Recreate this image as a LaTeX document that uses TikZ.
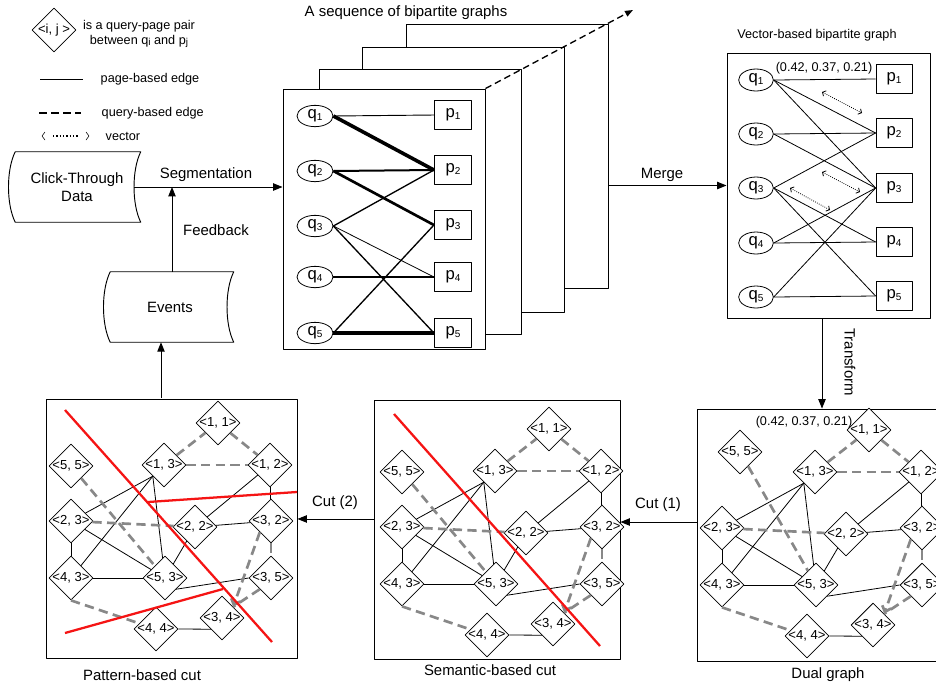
\documentclass[tikz,border=0pt]{standalone}
\usepackage{fontspec}
\setmainfont{Liberation Sans}
\usetikzlibrary{arrows.meta,shapes.geometric,calc}

\definecolor{edgegray}{RGB}{136,136,136}
\definecolor{cutred}{RGB}{245,20,20}

% small lowered index, as in q1, p2
\newcommand\lowidx[1]{\raisebox{-1pt}{\fontsize{7.5}{8}\selectfont #1}}
% pair label that does not widen its diamond
\newcommand\pairlbl[1]{\makebox[0pt]{#1}}

\tikzset{
  panel/.style={draw, fill=white, line width=0.7pt, inner sep=0pt},
  qnode/.style={ellipse, draw, fill=white, line width=0.6pt, minimum width=27pt, minimum height=16pt, inner sep=0pt, font=\fontsize{12.5}{13}\selectfont},
  pnode/.style={rectangle, draw, fill=white, line width=0.6pt, minimum width=28pt, minimum height=22pt, inner sep=0pt, font=\fontsize{12.5}{13}\selectfont},
  pair/.style={diamond, draw, fill=white, line width=0.6pt, minimum width=33pt, minimum height=33pt, inner sep=0pt, font=\fontsize{9.8}{11}\selectfont},
  qedge/.style={draw=edgegray, line width=2pt, dash pattern=on 7pt off 4pt},
  pedge/.style={draw=black, line width=0.6pt},
  flow/.style={-{Triangle[length=7pt,width=5.5pt]}, line width=0.7pt},
  cutline/.style={draw=cutred, line width=1.7pt},
  vecarrow/.style={densely dotted, line width=0.6pt, {Straight Barb[length=2pt,width=4.5pt]}-{Straight Barb[length=2pt,width=4.5pt]}},
  small/.style={font=\fontsize{9.5}{11.5}\selectfont},
  storeddata/.style={inner sep=0pt, align=center}
}

% the stored-data outline (both sides bowed to the left) around a node
\newcommand\storedoutline[1]{%
  \draw[line width=0.7pt, fill=white] (#1.north west) -- (#1.north east)
    .. controls ($(#1.north east)+(-9,18)$) and ($(#1.south east)+(-9,-18)$) .. (#1.south east)
    -- (#1.south west)
    .. controls ($(#1.south west)+(-9,-18)$) and ($(#1.north west)+(-9,18)$) .. (#1.north west);}

% dual graph of query-page pairs: #1 prefix, #2 origin, #3 place of <5, 5>
\newcommand\pairgraph[3]{%
  \begin{scope}[shift={#2}]
    \node[pair] (#1-11) at (172,24)  {\pairlbl{<1, 1>}};
    \node[pair] (#1-13) at (118,66)  {\pairlbl{<1, 3>}};
    \node[pair] (#1-12) at (224,66)  {\pairlbl{<1, 2>}};
    \node[pair] (#1-55) at #3        {\pairlbl{<5, 5>}};
    \node[pair] (#1-23) at (25,122)  {\pairlbl{<2, 3>}};
    \node[pair] (#1-22) at (149,128) {\pairlbl{<2, 2>}};
    \node[pair] (#1-32) at (225,122) {\pairlbl{<3, 2>}};
    \node[pair] (#1-43) at (25,179)  {\pairlbl{<4, 3>}};
    \node[pair] (#1-53) at (119,179) {\pairlbl{<5, 3>}};
    \node[pair] (#1-35) at (225,179) {\pairlbl{<3, 5>}};
    \node[pair] (#1-34) at (176,219) {\pairlbl{<3, 4>}};
    \node[pair] (#1-44) at (110,230) {\pairlbl{<4, 4>}};
  \end{scope}
  % page-based edges
  \draw[pedge] (#1-13.south west) -- (#1-23);
  \draw[pedge] (#1-13.south west) -- (#1-43);
  \draw[pedge] (#1-13.south west) -- (#1-53);
  \draw[pedge] (#1-23) -- (#1-53);
  \draw[pedge] (#1-23) -- (#1-43);
  \draw[pedge] (#1-43) -- (#1-53);
  \draw[pedge] (#1-53) -- (#1-22);
  \draw[pedge] (#1-22) -- (#1-12);
  \draw[pedge] (#1-22) -- (#1-32);
  \draw[pedge] (#1-12) -- (#1-32);
  \draw[pedge] (#1-53.south east) -- (#1-35.west);
  \draw[pedge] (#1-44.east) -- (#1-34.south west);
  % query-based edges
  \draw[qedge] (#1-13) -- (#1-11);
  \draw[qedge] (#1-11) -- (#1-12);
  \draw[qedge] (#1-13) -- (#1-12);
  \draw[qedge] (#1-55) -- (#1-53);
  \draw[qedge] (#1-23) -- (#1-22);
  \draw[qedge] (#1-43.south) -- (#1-44);
  \draw[qedge] (#1-32) -- (#1-35);
  \draw[qedge, -{Straight Barb[length=4pt,width=7pt]}] (#1-32.south west) -- (#1-34.north east);
  \draw[qedge] (#1-35.south west) -- (#1-34.north east);
}

\begin{document}
\begin{tikzpicture}[x=0.75pt, y=-0.75pt, font=\fontsize{11.2}{13.5}\selectfont, line join=round]
\useasboundingbox (0,0) rectangle (936,683);
\clip (0,0) rectangle (936,683);

% ---------- legend ----------
\node[pair] (legpair) at (54,30) {\pairlbl{<i, j >}};
\node[small, align=center] (legpairtxt) at (139,34) {is a query-page pair\\between q\lowidx{i} and p\lowidx{j}};
\coordinate (lp1) at (40,79);  \coordinate (lp2) at (83,79);
\draw[line width=0.6pt] (lp1) -- (lp2);
\node[small, anchor=west] (legpage) at (96,79) {page-based edge};
\coordinate (lq1) at (39,113); \coordinate (lq2) at (81,113);
\draw[line width=1.4pt, dash pattern=on 6pt off 3pt] (lq1) -- (lq2);
\node[small, anchor=west] (legquery) at (97,113) {query-based edge};
\draw[line width=0.4pt] (45,132) -- (42,136) -- (45,140);
\draw[line width=1.1pt, dash pattern=on 0.9pt off 1.6pt] (53,136) -- (78,136);
\draw[line width=0.4pt] (86,132) -- (89,136) -- (86,140);
\node[small, anchor=west] (legvec) at (101,136) {vector};

% ---------- click-through data and events ----------
\node[storeddata, minimum width=93.75pt, minimum height=52.5pt] (ctd) at (78,187) {};
\storedoutline{ctd}
\node[align=center] (ctdtxt) at (77,187) {Click-Through\\Data};
\node[storeddata, minimum width=92.25pt, minimum height=52.5pt] (ev) at (172,307) {};
\storedoutline{ev}
\node (evtxt) at (170,307) {Events};

% ---------- sequence of bipartite graphs ----------
\node (seqtitle) at (406,13) {A sequence of bipartite graphs};
\node[panel, minimum width=151.5pt, minimum height=198pt]    (bip3) at (507,156) {};
\node[panel, minimum width=151.5pt, minimum height=198.75pt] (bip2) at (463,179.5) {};
\node[panel, minimum width=151.5pt, minimum height=198.75pt] (bip1) at (420,201.5) {};
\node[panel, minimum width=151.5pt, minimum height=195pt]    (bip0) at (384,219) {};
\coordinate (seqend) at (633,10);
\draw[line width=1pt, dash pattern=on 5pt off 3pt, -{Triangle[length=6pt,width=4.5pt]}] (bip0.north east) -- (seqend);

\node[qnode] (bq1) at (315,116) {q\lowidx{1}};
\node[qnode] (bq2) at (315,171) {q\lowidx{2}};
\node[qnode] (bq3) at (315,226) {q\lowidx{3}};
\node[qnode] (bq4) at (315,277) {q\lowidx{4}};
\node[qnode] (bq5) at (315,333) {q\lowidx{5}};
\node[pnode] (bp1) at (453,115) {p\lowidx{1}};
\node[pnode] (bp2) at (453,170) {p\lowidx{2}};
\node[pnode] (bp3) at (453,225) {p\lowidx{3}};
\node[pnode] (bp4) at (453,277) {p\lowidx{4}};
\node[pnode] (bp5) at (453,333) {p\lowidx{5}};
\draw[line width=0.7pt] (bq1.east) -- (bp1.west);
\draw[line width=2.7pt] (bq1.east) -- (bp2.west);
\draw[line width=1.5pt] (bq2.east) -- (bp2.west);
\draw[line width=2pt]   (bq2.east) -- (bp3.west);
\draw[line width=1pt]   (bq3.east) -- (bp2.west);
\draw[line width=0.6pt] (bq3.east) -- (bp4.west);
\draw[line width=1pt]   (bq3.east) -- (bp5.west);
\draw[line width=1pt]   (bq4.east) -- (bp4.west);
\draw[line width=1pt]   (bq5.east) -- (bp3.west);
\draw[line width=2.3pt] (bq5.east) -- (bp5.west);

% ---------- vector-based bipartite graph ----------
\node[small] (vectitle) at (817,35) {Vector-based bipartite graph};
\node[panel, minimum width=152.25pt, minimum height=198.75pt] (vec) at (828.5,185.5) {};
\node[qnode, minimum width=26pt, minimum height=16.5pt] (vq1) at (756,80)  {q\lowidx{1}};
\node[qnode, minimum width=26pt, minimum height=16.5pt] (vq2) at (756,134) {q\lowidx{2}};
\node[qnode, minimum width=26pt, minimum height=16.5pt] (vq3) at (756,188) {q\lowidx{3}};
\node[qnode, minimum width=26pt, minimum height=16.5pt] (vq4) at (756,243) {q\lowidx{4}};
\node[qnode, minimum width=26pt, minimum height=16.5pt] (vq5) at (756,297) {q\lowidx{5}};
\node[pnode, minimum width=27pt] (vp1) at (894,79)  {p\lowidx{1}};
\node[pnode, minimum width=27pt] (vp2) at (894,133) {p\lowidx{2}};
\node[pnode, minimum width=27pt] (vp3) at (894,188) {p\lowidx{3}};
\node[pnode, minimum width=27pt] (vp4) at (894,242) {p\lowidx{4}};
\node[pnode, minimum width=27pt] (vp5) at (894,296) {p\lowidx{5}};
\foreach \a/\b in {1/1,1/2,1/3,2/2,2/3,3/2,3/4,3/5,4/3,4/4,5/3,5/5}
  \draw[pedge] (vq\a.east) -- (vp\b.west);
\node[small] (veclbl) at (824,68) {(0.42, 0.37, 0.21)};
\coordinate (va1) at (822,92);  \coordinate (vb1) at (862,113);
\coordinate (va2) at (822,172); \coordinate (vb2) at (860,192);
\coordinate (va3) at (790,188); \coordinate (vb3) at (830,210);
\draw[vecarrow] (va1) -- (vb1);
\draw[vecarrow] (va2) -- (vb2);
\draw[vecarrow] (va3) -- (vb3);

% ---------- three dual graphs ----------
\node[panel, minimum width=188.25pt, minimum height=194.25pt] (patbox)  at (171.5,528.5) {};
\node[panel, minimum width=184.5pt,  minimum height=194.25pt] (sembox)  at (497,529.5) {};
\node[panel, minimum width=189.75pt, minimum height=189pt]    (dualbox) at (823.5,535) {};
\pairgraph{pt}{(46,399)}{(25,67)}
\pairgraph{sm}{(377,405)}{(25,67)}
\pairgraph{du}{(697,406)}{(43,46)}
\node[small] (duallbl) at (804,422) {(0.42, 0.37, 0.21)};

% cuts
\draw[cutline] (65,410) -- (272,642);
\draw[cutline] (148,502) -- (297,492);
\draw[cutline] (65,633) -- (223,589);
\draw[cutline] (394,414) -- (600,646);

\node (patlbl)  at (142,675) {Pattern-based cut};
\node (semlbl)  at (490,670) {Semantic-based cut};
\node (duallbl2) at (828,675) {Dual graph};

% ---------- process flow ----------
\draw[flow] ($(ctd.east)+(-7,0)$) -- (ctd.east -| bip0.west);
\node (seglbl) at (206,175) {Segmentation};
\draw[flow] (ev.north) -- (ev.north |- ctd.east);
\node (fbklbl) at (216,230) {Feedback};
\draw[flow] (vec.west -| bip3.east) -- (vec.west);
\node (mrglbl) at (662,175) {Merge};
\coordinate (tfstart) at (822,318);
\draw[flow] (tfstart) -- (tfstart |- dualbox.north);
\node[rotate=-90] (tflbl) at (850,362) {Transform};
\draw[flow] ([yshift=9.75pt]dualbox.west) -- ([yshift=9.75pt]dualbox.west -| sembox.east);
\node (cut1lbl) at (658,505) {Cut (1)};
\draw[flow] ([yshift=7.9pt]sembox.west) -- ([yshift=7.9pt]sembox.west -| patbox.east);
\node (cut2lbl) at (335,503) {Cut (2)};
\coordinate (evstart) at (161,398);
\draw[flow] (evstart) -- (evstart |- ev.south);
\end{tikzpicture}
\end{document}
